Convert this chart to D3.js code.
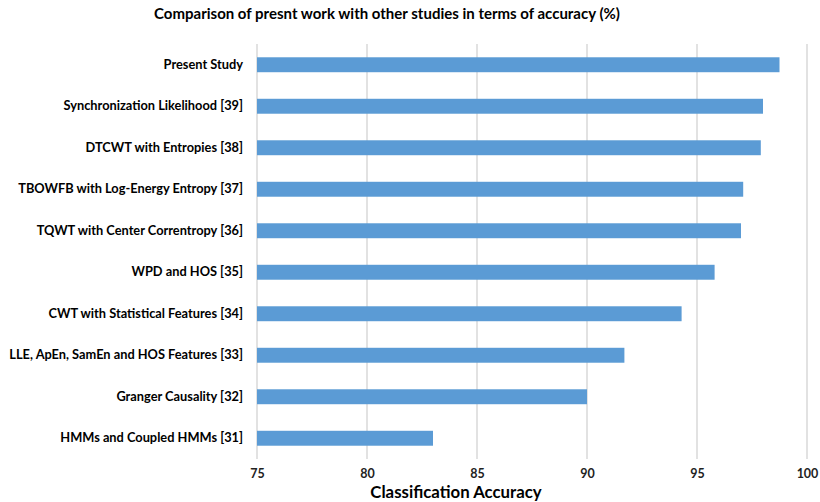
<!DOCTYPE html>
<html>
<head>
<meta charset="utf-8">
<script src="https://cdn.jsdelivr.net/npm/d3@7"></script>
<style>
  body { margin: 0; background: #fff; }
  text { font-family: Lato, "Open Sans", sans-serif; fill: #000; }
</style>
</head>
<body>
<div id="chart"></div>
<script>
var studies = [
    "Present Study",
    "Synchronization Likelihood [39]",
    "DTCWT with Entropies [38]",
    "TBOWFB with Log-Energy Entropy [37]",
    "TQWT with Center Correntropy [36]",
    "WPD and HOS [35]",
    "CWT with Statistical Features [34]",
    "LLE, ApEn, SamEn and HOS Features [33]",
    "Granger Causality [32]",
    "HMMs and Coupled HMMs [31]"
];
var accuracy = [98.75, 98.0, 97.9, 97.1, 97.0, 95.8, 94.3, 91.7, 90.0, 83.0];
var xTicks = [75, 80, 85, 90, 95, 100];

var width = 820, height = 502;
var margin = {top: 44, right: 13, bottom: 43, left: 257};

var svg = d3.select("#chart")
        .append("svg")
        .attr("width", width)
        .attr("height", height);

var x = d3.scaleLinear()
        .domain([75, 100])
        .range([margin.left, width - margin.right]);

var y = d3.scaleBand()
        .domain(studies)
        .range([margin.top, height - margin.bottom])
        .paddingInner(0.64)
        .paddingOuter(0.32);

// gridlines
svg.append("g")
        .selectAll("line")
        .data(xTicks)
        .enter().append("line")
        .attr("x1", function(d) { return x(d); })
        .attr("x2", function(d) { return x(d); })
        .attr("y1", margin.top)
        .attr("y2", height - margin.bottom)
        .style("stroke", "#d9d9d9")
        .style("stroke-width", 1.5);

// bars
svg.append("g")
        .selectAll("rect")
        .data(studies)
        .enter().append("rect")
        .attr("x", x(75))
        .attr("y", function(d) { return y(d); })
        .attr("width", function(d, i) { return x(accuracy[i]) - x(75); })
        .attr("height", y.bandwidth())
        .style("fill", "#5b9bd5");

// category labels
var yAxis = svg.append("g")
        .attr("transform", "translate(" + (margin.left - 14) + ",0)")
        .call(d3.axisLeft(y).tickSize(0).tickPadding(0));
yAxis.select(".domain").remove();
yAxis.selectAll("text")
        .style("font-size", "12.8px")
        .style("font-weight", "bold")
        .style("font-family", "Lato, 'Open Sans', sans-serif");

// x tick labels
var xAxis = svg.append("g")
        .attr("transform", "translate(0," + (height - margin.bottom) + ")")
        .call(d3.axisBottom(x).tickValues(xTicks).tickSize(0).tickPadding(10));
xAxis.select(".domain").remove();
xAxis.selectAll("text")
        .style("font-size", "12.5px")
        .style("font-weight", "bold")
        .style("fill", "#222")
        .style("font-family", "Lato, 'Open Sans', sans-serif");

// titles
svg.append("text")
        .attr("x", 387)
        .attr("y", 19)
        .attr("text-anchor", "middle")
        .style("font-size", "15px")
        .style("font-weight", "bold")
        .text("Comparison of presnt work with other studies in terms of accuracy (%)");

svg.append("text")
        .attr("x", 456)
        .attr("y", 498)
        .attr("text-anchor", "middle")
        .style("font-size", "16.8px")
        .style("font-weight", "bold")
        .text("Classification Accuracy");
</script>
</body>
</html>
